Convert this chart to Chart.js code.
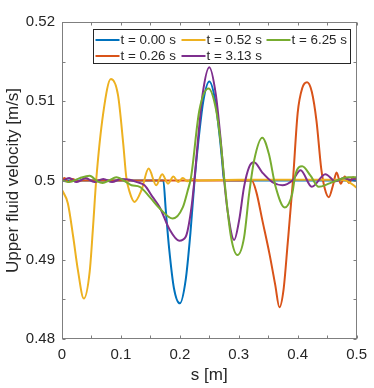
<!DOCTYPE html>
<html><head><meta charset="utf-8">
<script src="https://cdn.jsdelivr.net/npm/chart.js@4.4.0/dist/chart.umd.min.js"></script>
<style>html,body{margin:0;padding:0;background:#fff;}#wrap{width:374px;height:388px;}</style>
</head><body><div id="wrap"><canvas id="c" width="374" height="388"></canvas></div>
<script>
// ---- data ----
const seriesLabels = ['t = 0.00 s', 't = 0.26 s', 't = 0.52 s', 't = 3.13 s', 't = 6.25 s'];

const sBlue = [0, 0.172, 0.176, 0.182, 0.19, 0.2, 0.21, 0.218, 0.225, 0.232, 0.24, 0.25, 0.26, 0.268, 0.272, 0.275, 0.5];
const vBlue = [0.5, 0.5, 0.4964, 0.4913, 0.4864, 0.4845, 0.4875, 0.4934, 0.5, 0.5053, 0.5101, 0.5125, 0.5101, 0.5053, 0.5023, 0.5, 0.5];

const sRed = [0, 0.004, 0.011, 0.018, 0.026, 0.035, 0.322, 0.33, 0.34, 0.352, 0.362, 0.369, 0.376, 0.383, 0.392, 0.4, 0.408, 0.416, 0.424, 0.432, 0.44, 0.446, 0.453, 0.46, 0.466, 0.473, 0.48, 0.487, 0.494, 0.5];
const vRed = [0.4999, 0.5003, 0.4998, 0.5002, 0.4999, 0.5, 0.5, 0.4985, 0.4950, 0.4908, 0.4868, 0.4840, 0.4862, 0.4920, 0.5, 0.5085, 0.5117, 0.5124, 0.5112, 0.5075, 0.5015, 0.4990, 0.4979, 0.4994, 0.5010, 0.4996, 0.5005, 0.4997, 0.5004, 0.5001];

const sYellow = [0, 0.01, 0.019, 0.027, 0.037, 0.047, 0.053, 0.058, 0.07, 0.083, 0.095, 0.104, 0.109, 0.115, 0.123, 0.135, 0.147, 0.16, 0.17, 0.18, 0.189, 0.197, 0.205, 0.213, 0.222, 0.232, 0.3, 0.4, 0.47, 0.485, 0.5];
const vYellow = [0.4988, 0.4971, 0.4929, 0.4887, 0.4851, 0.4885, 0.4945, 0.5, 0.5085, 0.5128, 0.5108, 0.5046, 0.5005, 0.4985, 0.4973, 0.4988, 0.5015, 0.4994, 0.5008, 0.4996, 0.5005, 0.4998, 0.5003, 0.4999, 0.5002, 0.5, 0.5001, 0.5001, 0.5001, 0.4999, 0.4991];

const sPurple = [0, 0.012, 0.025, 0.04, 0.055, 0.07, 0.085, 0.1, 0.115, 0.127, 0.14, 0.154, 0.166, 0.182, 0.199, 0.21, 0.219, 0.2247, 0.231, 0.2387, 0.25, 0.261, 0.2695, 0.2753, 0.281, 0.2922, 0.3007, 0.309, 0.3176, 0.326, 0.34, 0.357, 0.374, 0.391, 0.405, 0.424, 0.447, 0.4645, 0.478, 0.49, 0.5];
const vPurple = [0.4999, 0.5003, 0.4998, 0.5003, 0.4998, 0.5002, 0.4998, 0.5002, 0.5001, 0.4998, 0.4994, 0.4979, 0.4966, 0.4939, 0.4924, 0.4929, 0.4962, 0.5, 0.5053, 0.5109, 0.5143, 0.5109, 0.5050, 0.5, 0.4962, 0.4925, 0.4950, 0.4992, 0.5017, 0.5023, 0.5010, 0.4998, 0.4994, 0.5, 0.5013, 0.4992, 0.5008, 0.4999, 0.5003, 0.5001, 0.5003];

const sGreen = [0, 0.012, 0.03, 0.047, 0.06, 0.069, 0.08, 0.092, 0.109, 0.118, 0.132, 0.149, 0.1655, 0.188, 0.205, 0.2133, 0.219, 0.233, 0.2488, 0.2613, 0.2698, 0.2753, 0.2866, 0.2978, 0.309, 0.3176, 0.326, 0.34, 0.351, 0.3626, 0.378, 0.3907, 0.3963, 0.4077, 0.4218, 0.4358, 0.4527, 0.466, 0.486, 0.5];
const vGreen = [0.5, 0.4998, 0.5003, 0.5006, 0.4999, 0.4997, 0.5, 0.5004, 0.4998, 0.4994, 0.4992, 0.4979, 0.4965, 0.4952, 0.4966, 0.4987, 0.5004, 0.5088, 0.5116, 0.5090, 0.5045, 0.5003, 0.4930, 0.4906, 0.4928, 0.4983, 0.5025, 0.5054, 0.5034, 0.4992, 0.4966, 0.4983, 0.5008, 0.5018, 0.5006, 0.4992, 0.4996, 0.5, 0.5004, 0.5004];

const xTicks = [0, 0.1, 0.2, 0.3, 0.4, 0.5];
const xTickLabels = ['0', '0.1', '0.2', '0.3', '0.4', '0.5'];
const xMinorTicks = [0.05, 0.15, 0.25, 0.35, 0.45];
const yTicks = [0.48, 0.49, 0.5, 0.51, 0.52];
const yTickLabels = ['0.48', '0.49', '0.5', '0.51', '0.52'];
const yMinorTicks = [0.485, 0.495, 0.505, 0.515];

// ---- styling ----
const FONT = "'Liberation Sans', Arial, Helvetica, sans-serif";
const TXT = '#262626';
const AXIS = '#7f7f7f';
const colors = ['#0072BD', '#D95319', '#EDB120', '#7E2F8E', '#77AC30'];
const sArr = [sBlue, sRed, sYellow, sPurple, sGreen];
const vArr = [vBlue, vRed, vYellow, vPurple, vGreen];

const datasets = seriesLabels.map((lab, k) => ({
  label: lab,
  data: sArr[k].map((s, i) => ({x: s, y: vArr[k][i]})),
  borderColor: colors[k],
  backgroundColor: colors[k],
  borderWidth: 2,
  pointRadius: 0,
  fill: false,
  cubicInterpolationMode: 'monotone',
  order: 4 - k
}));

const framePlugin = {
  id: 'frame',
  afterDatasetsDraw(chart) {
    const {ctx, chartArea: a, scales: {x, y}} = chart;
    ctx.save();
    ctx.strokeStyle = AXIS;
    ctx.lineWidth = 1;
    const L = Math.round(a.left) + 0.5, R = Math.round(a.right) - 0.5;
    const T = Math.round(a.top) + 0.5, B = Math.round(a.bottom) - 0.5;
    ctx.strokeRect(L, T, R - L, B - T);
    const tl = 3;
    ctx.beginPath();
    xTicks.concat(xMinorTicks).forEach(v => {
      const px = Math.round(x.getPixelForValue(v)) + 0.5;
      ctx.moveTo(px, B); ctx.lineTo(px, B - tl);
      ctx.moveTo(px, T); ctx.lineTo(px, T + tl);
    });
    yTicks.concat(yMinorTicks).forEach(v => {
      const py = Math.round(y.getPixelForValue(v)) + 0.5;
      ctx.moveTo(L, py); ctx.lineTo(L + tl, py);
      ctx.moveTo(R, py); ctx.lineTo(R - tl, py);
    });
    ctx.stroke();
    ctx.restore();
  }
};

const legendLayout = [
  {col: 0, row: 0}, {col: 0, row: 1}, {col: 1, row: 0}, {col: 1, row: 1}, {col: 2, row: 0}
];
const legendPlugin = {
  id: 'boxLegend',
  afterDraw(chart) {
    const {ctx, chartArea: a} = chart;
    ctx.save();
    const bx = a.left + 31, by = a.top + 7, bw = 258, bh = 35;
    ctx.fillStyle = '#fff';
    ctx.fillRect(bx, by, bw, bh);
    ctx.strokeStyle = '#262626';
    ctx.lineWidth = 1;
    ctx.strokeRect(bx + 0.5, by + 0.5, bw - 1, bh - 1);
    const colX = [bx + 2.5, bx + 88.5, bx + 173.5];
    const rowY = [by + 11, by + 27];
    ctx.font = '13.4px ' + FONT;
    ctx.textBaseline = 'middle';
    ctx.textAlign = 'left';
    seriesLabels.forEach((lab, k) => {
      const p = legendLayout[k];
      const x0 = colX[p.col], yy = rowY[p.row];
      ctx.strokeStyle = colors[k];
      ctx.lineWidth = 2;
      ctx.beginPath();
      ctx.moveTo(x0, yy); ctx.lineTo(x0 + 24, yy);
      ctx.stroke();
      ctx.fillStyle = TXT;
      ctx.fillText(lab, x0 + 25, yy + 0.5);
    });
    ctx.restore();
  }
};

new Chart(document.getElementById('c'), {
  type: 'line',
  data: {datasets},
  options: {
    responsive: false,
    animation: false,
    devicePixelRatio: 1,
    layout: {padding: {left: 0, right: 16, top: 22, bottom: 0}},
    plugins: {legend: {display: false}, tooltip: {enabled: false}},
    scales: {
      x: {
        type: 'linear', min: 0, max: 0.5,
        grid: {display: false, drawTicks: false},
        border: {display: false},
        afterBuildTicks: sc => { sc.ticks = xTicks.map(v => ({value: v})); },
        afterFit: sc => { sc.height = 49; },
        ticks: {callback: (v, i) => xTickLabels[i], font: {family: FONT, size: 15}, color: TXT, padding: 7, maxRotation: 0, autoSkip: false},
        title: {display: true, text: 's [m]', font: {family: FONT, size: 17}, color: TXT, padding: {top: 0, bottom: 2}}
      },
      y: {
        type: 'linear', min: 0.48, max: 0.52,
        grid: {display: false, drawTicks: false},
        border: {display: false},
        afterBuildTicks: sc => { sc.ticks = yTicks.map(v => ({value: v})); },
        afterFit: sc => { sc.width = 62; },
        ticks: {callback: (v, i) => yTickLabels[i], font: {family: FONT, size: 15}, color: TXT, padding: 7, autoSkip: false},
        title: {display: true, text: 'Upper fluid velocity [m/s]', font: {family: FONT, size: 17}, color: TXT, padding: {top: 3, bottom: 0}}
      }
    }
  },
  plugins: [framePlugin, legendPlugin]
});
</script></body></html>
